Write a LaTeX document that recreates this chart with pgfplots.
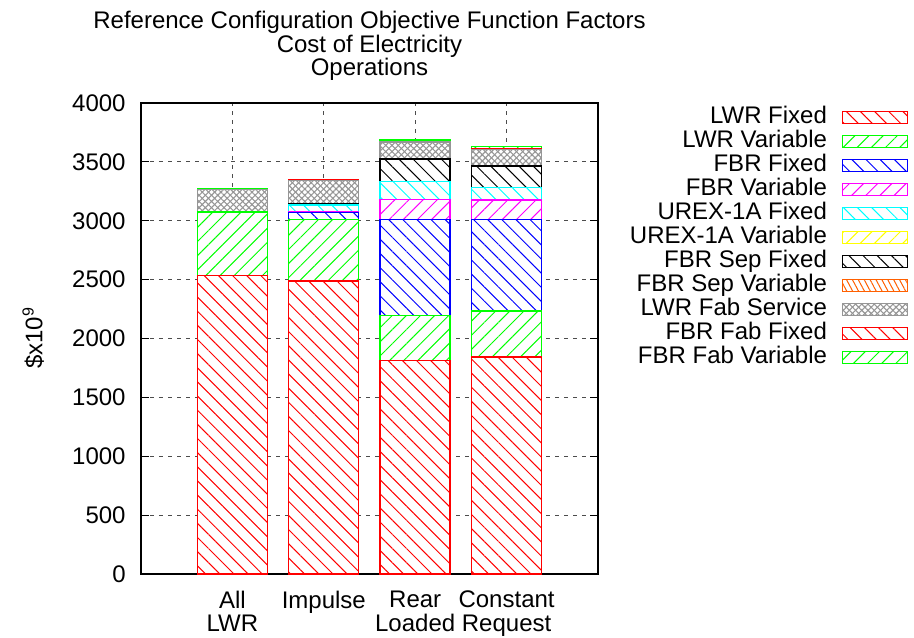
\documentclass[border=0pt]{standalone}
\usepackage{pgfplots}
\pgfplotsset{compat=1.18}
\usepackage{fontspec}
\setmainfont{Liberation Sans}
\usetikzlibrary{patterns.meta}

\definecolor{gpred}{RGB}{255,0,0}
\definecolor{gpgreen}{RGB}{0,255,0}
\definecolor{gpblue}{RGB}{0,0,255}
\definecolor{gpmagenta}{RGB}{255,0,255}
\definecolor{gpcyan}{RGB}{0,255,255}
\definecolor{gpyellow}{RGB}{255,255,0}
\definecolor{gporange}{RGB}{255,96,0}
\definecolor{gpgray}{RGB}{150,150,150}

% Cost components per scenario (x = 1..4: All LWR, Impulse, Rear Loaded, Constant Request)
\pgfplotstableread{
x  lwrfix lwrvar fbrfix fbrvar urexfix urexvar sepfix sepvar fabsvc fabfix fabvar
1  2537   537    0      0      0       0       0      0      193    0      2
2  2488   524    57     8      57      0       15     0      191    12     0
3  1811   383    818    170    150     0       192    0      145    6      11
4  1843   391    778    164    105     0       184    0      142    4      18
}\costdata

\tikzset{
  back/.style={draw=#1, line width=0.7pt, preaction={fill=white},
    pattern={Lines[angle=-45,distance=5pt,line width=0.5pt]}, pattern color=#1},
  fwd/.style={draw=#1, line width=0.7pt, preaction={fill=white},
    pattern={Lines[angle=45,distance=5pt,line width=0.5pt]}, pattern color=#1},
  steep/.style={draw=#1, line width=0.7pt, preaction={fill=white},
    pattern={Lines[angle=-62,distance=2.6pt,line width=0.5pt]}, pattern color=#1},
  xhatch/.style={draw=#1, line width=0.7pt, preaction={fill=white},
    pattern={Lines[angle=45,distance=2.2pt,line width=0.55pt]}, pattern color=#1,
    postaction={pattern={Lines[angle=-45,distance=2.2pt,line width=0.55pt]}, pattern color=#1}},
}
\pgfplotsset{
  swatch/.style={legend image code/.code={\draw[##1] (0pt,-3pt) rectangle (32.5pt,3pt);}},
}

\begin{document}
\fontsize{12}{11.75}\selectfont
\begin{tikzpicture}
% fixed page frame around the plot box
\path[use as bounding box] (-70.5pt,-31.5pt) rectangle (386.5pt,287pt);
\begin{axis}[
  scale only axis,
  width=228.5pt, height=235.5pt,
  ybar stacked, bar width=35pt,
  xmin=0, xmax=5, ymin=0, ymax=4000,
  xtick={1,2,3,4},
  xticklabels={{All\\LWR},{Impulse},{Rear\\Loaded},{Constant\\Request}},
  xticklabel style={align=center, yshift=-4.3pt},
  ytick={0,500,...,4000},
  yticklabel style={xshift=-3.5pt},
  /pgf/number format/assume math mode=true,
  scaled y ticks=false,
  yticklabel={\pgfmathprintnumber[fixed,1000 sep={}]{\tick}},
  tick align=inside,
  major tick length=4pt,
  xtick style={draw=none},
  ytick style={black, line width=0.6pt},
  axis line style={line width=0.7pt},
  grid=major,
  major grid style={dash pattern=on 2pt off 2.5pt, black!70, line width=0.5pt},
  title={Reference Configuration Objective Function Factors\\Cost of Electricity\\Operations},
  title style={align=center, yshift=1pt},
  ylabel={\$x10\textsuperscript{9}},
  ylabel style={at={(axis description cs:-0.236,0.501)}, anchor=center},
  legend plot pos=right,
  legend cell align=right,
  legend style={at={(axis description cs:1.68,0.9936)}, anchor=north east,
    draw=none, fill=none, inner sep=0pt, row sep=1pt, column sep=7.5pt,
    nodes={inner sep=0pt, text height=8.5pt, text depth=2.5pt}},
]
\addplot[back=gpred, swatch]       table[x=x,y=lwrfix]  {\costdata};
\addlegendentry{LWR Fixed}
\addplot[fwd=gpgreen, swatch]      table[x=x,y=lwrvar]  {\costdata};
\addlegendentry{LWR Variable}
\addplot[back=gpblue, swatch]      table[x=x,y=fbrfix]  {\costdata};
\addlegendentry{FBR Fixed}
\addplot[fwd=gpmagenta, swatch]    table[x=x,y=fbrvar]  {\costdata};
\addlegendentry{FBR Variable}
\addplot[back=gpcyan, swatch]      table[x=x,y=urexfix] {\costdata};
\addlegendentry{UREX-1A Fixed}
\addplot[fwd=gpyellow, swatch]     table[x=x,y=urexvar] {\costdata};
\addlegendentry{UREX-1A Variable}
\addplot[back=black, swatch]       table[x=x,y=sepfix]  {\costdata};
\addlegendentry{FBR Sep Fixed}
\addplot[steep=gporange, swatch]   table[x=x,y=sepvar]  {\costdata};
\addlegendentry{FBR Sep Variable}
\addplot[xhatch=gpgray, swatch]    table[x=x,y=fabsvc]  {\costdata};
\addlegendentry{LWR Fab Service}
\addplot[back=gpred, swatch]       table[x=x,y=fabfix]  {\costdata};
\addlegendentry{FBR Fab Fixed}
\addplot[fwd=gpgreen, swatch]      table[x=x,y=fabvar]  {\costdata};
\addlegendentry{FBR Fab Variable}
\end{axis}
\end{tikzpicture}
\end{document}
